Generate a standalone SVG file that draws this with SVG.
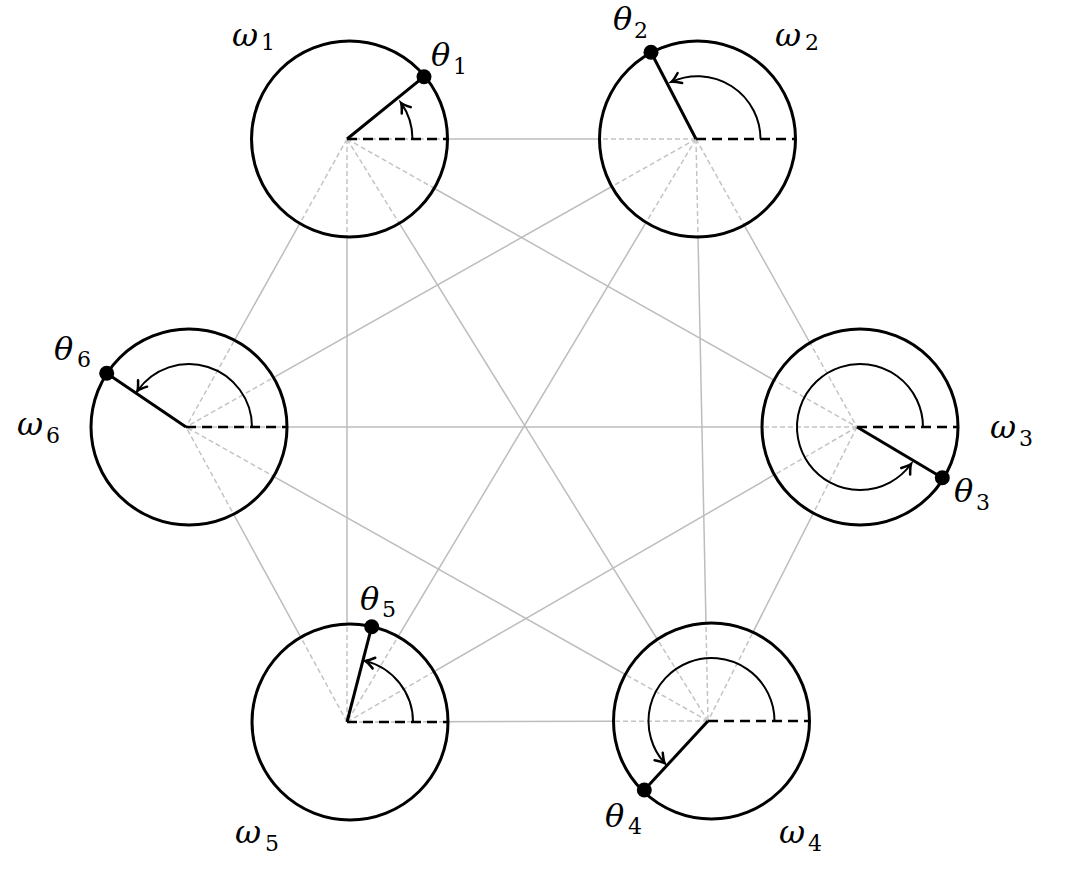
<svg xmlns="http://www.w3.org/2000/svg" width="1065" height="882" viewBox="0 0 1065 882">
<style>
.g{stroke:#bdbdbd;stroke-width:1.5;fill:none}
.gd{stroke:#c4c4c4;stroke-width:1.5;fill:none;stroke-dasharray:5 3}
.ring{fill:none;stroke:#000;stroke-width:3}
.rad{stroke:#000;stroke-width:3;fill:none}
.ref{stroke:#000;stroke-width:2.5;stroke-dasharray:10 6;fill:none}
.arc{stroke:#000;stroke-width:2;fill:none;marker-end:url(#ah)}
.dot{fill:#000}
.l{font-family:"DejaVu Serif","Liberation Serif",serif;font-style:italic;font-size:32px;fill:#000}
.s{font-family:"DejaVu Serif","Liberation Serif",serif;font-size:22px;fill:#000}
</style>
<defs>
<marker id="ah" markerUnits="userSpaceOnUse" viewBox="-12 -8 16 16" markerWidth="16" markerHeight="16" refX="0" refY="0" orient="auto">
<path d="M -9 -5.5 Q -3 -1 0 0 Q -3 1 -9 5.5" stroke="#000" stroke-width="2.5" fill="none" stroke-linecap="round"/>
</marker>
<mask id="outside" maskUnits="userSpaceOnUse" x="0" y="0" width="1065" height="882">
<rect x="0" y="0" width="1065" height="882" fill="#fff"/>
<circle cx="349.5" cy="139" r="98" fill="#000"/>
<circle cx="697.5" cy="139" r="98" fill="#000"/>
<circle cx="860" cy="427" r="98" fill="#000"/>
<circle cx="711.5" cy="721" r="98" fill="#000"/>
<circle cx="350" cy="722" r="98" fill="#000"/>
<circle cx="189" cy="427" r="98" fill="#000"/>
</mask>
<clipPath id="inside">
<circle cx="349.5" cy="139" r="98"/>
<circle cx="697.5" cy="139" r="98"/>
<circle cx="860" cy="427" r="98"/>
<circle cx="711.5" cy="721" r="98"/>
<circle cx="350" cy="722" r="98"/>
<circle cx="189" cy="427" r="98"/>
</clipPath>
<g id="edges">
<line x1="347" y1="139" x2="696" y2="139"/>
<line x1="347" y1="139" x2="857" y2="427"/>
<line x1="347" y1="139" x2="708" y2="721"/>
<line x1="347" y1="139" x2="347" y2="722"/>
<line x1="347" y1="139" x2="186" y2="427"/>
<line x1="696" y1="139" x2="857" y2="427"/>
<line x1="696" y1="139" x2="708" y2="721"/>
<line x1="696" y1="139" x2="347" y2="722"/>
<line x1="696" y1="139" x2="186" y2="427"/>
<line x1="857" y1="427" x2="708" y2="721"/>
<line x1="857" y1="427" x2="347" y2="722"/>
<line x1="857" y1="427" x2="186" y2="427"/>
<line x1="708" y1="721" x2="347" y2="722"/>
<line x1="708" y1="721" x2="186" y2="427"/>
<line x1="347" y1="722" x2="186" y2="427"/>
</g>
</defs>
<g id="connectors">
<use href="#edges" class="g" mask="url(#outside)"/>
<use href="#edges" class="gd" clip-path="url(#inside)"/>
</g>
<g id="node1">
<circle class="ring" cx="349.5" cy="139" r="98"/>
<line class="ref" x1="347" y1="139" x2="447.5" y2="139"/>
<line class="rad" x1="347" y1="139" x2="424" y2="76.7"/>
<path class="arc" d="M 412.5 139 A 63 63 0 0 0 401.1 102.9"/>
<circle class="dot" cx="424" cy="76.7" r="7.5"/>
<text class="l" x="232" y="46">ω</text><text class="s" x="261" y="50">1</text>
<text class="l" x="431" y="66">θ</text><text class="s" x="453" y="74">1</text>
</g>
<g id="node2">
<circle class="ring" cx="697.5" cy="139" r="98"/>
<line class="ref" x1="696" y1="139" x2="795.5" y2="139"/>
<line class="rad" x1="696" y1="139" x2="651" y2="52.3"/>
<path class="arc" d="M 760.5 139 A 63 63 0 0 0 671.7 81.7"/>
<circle class="dot" cx="651" cy="52.3" r="7.5"/>
<text class="l" x="613" y="30">θ</text><text class="s" x="634" y="38">2</text>
<text class="l" x="775" y="46">ω</text><text class="s" x="805" y="50">2</text>
</g>
<g id="node3">
<circle class="ring" cx="860" cy="427" r="98"/>
<line class="ref" x1="857" y1="427" x2="958" y2="427"/>
<line class="rad" x1="857" y1="427" x2="942.3" y2="477.7"/>
<path class="arc" d="M 923 427 A 63 63 0 1 0 911 464"/>
<circle class="dot" cx="942.3" cy="477.7" r="7.5"/>
<text class="l" x="990" y="438">ω</text><text class="s" x="1019" y="446">3</text>
<text class="l" x="954" y="502">θ</text><text class="s" x="976" y="510">3</text>
</g>
<g id="node4">
<circle class="ring" cx="711.5" cy="721" r="98"/>
<line class="ref" x1="708" y1="721" x2="809.5" y2="721"/>
<line class="rad" x1="708" y1="721" x2="644.3" y2="790"/>
<path class="arc" d="M 774.5 721 A 63 63 0 1 0 664.7 763.2"/>
<circle class="dot" cx="644.3" cy="790" r="7.5"/>
<text class="l" x="605" y="827">θ</text><text class="s" x="628" y="834">4</text>
<text class="l" x="779" y="843">ω</text><text class="s" x="808" y="851">4</text>
</g>
<g id="node5">
<circle class="ring" cx="350" cy="722" r="98"/>
<line class="ref" x1="347" y1="722" x2="448" y2="722"/>
<line class="rad" x1="347" y1="722" x2="371.7" y2="626.7"/>
<path class="arc" d="M 413 722 A 63 63 0 0 0 365.2 660.9"/>
<circle class="dot" cx="371.7" cy="626.7" r="7.5"/>
<text class="l" x="360" y="610">θ</text><text class="s" x="382" y="617">5</text>
<text class="l" x="235" y="843">ω</text><text class="s" x="265" y="851">5</text>
</g>
<g id="node6">
<circle class="ring" cx="189" cy="427" r="98"/>
<line class="ref" x1="186" y1="427" x2="287" y2="427"/>
<line class="rad" x1="186" y1="427" x2="106.7" y2="373.3"/>
<path class="arc" d="M 252 427 A 63 63 0 0 0 137.4 390.9"/>
<circle class="dot" cx="106.7" cy="373.3" r="7.5"/>
<text class="l" x="54" y="360">θ</text><text class="s" x="77" y="367">6</text>
<text class="l" x="17" y="435">ω</text><text class="s" x="46" y="443">6</text>
</g>
</svg>
